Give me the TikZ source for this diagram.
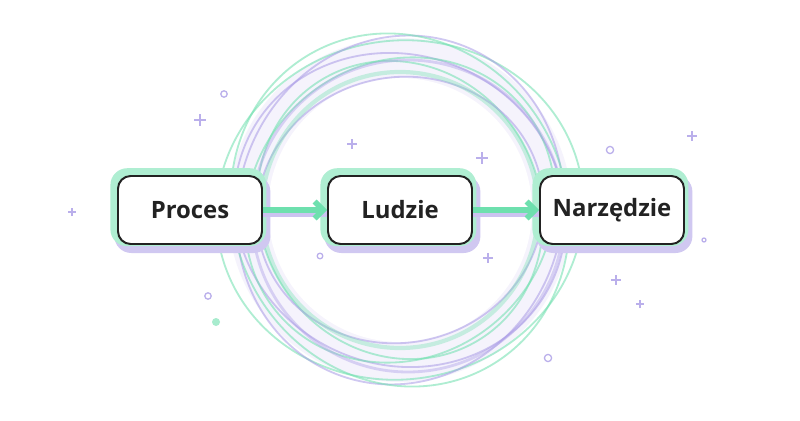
\documentclass[tikz,border=0pt]{standalone}
\usepackage{fontspec}
\setmainfont{Open Sans}
\usetikzlibrary{positioning, arrows.meta}
\definecolor{mint}{HTML}{6EE0AE}
\definecolor{lilac}{HTML}{A99BE6}
\definecolor{ink}{HTML}{222222}
\tikzset{
    stage/.style={draw=ink, line width=1.4pt, rounded corners=9pt, fill=white,
        minimum width=3.6cm, minimum height=1.7cm, font=\fontsize{17}{20}\selectfont\bfseries, text=ink},
    halo/.style={rounded corners=12pt, minimum width=3.9cm, minimum height=1.95cm},
    ring/.style={line width=1.3pt, opacity=0.55},
    flow/.style={->, line width=4pt, draw=mint, >={Straight Barb[length=6pt]}},
    spark/.style={line width=0.9pt, draw=lilac!80},
}
\newcommand{\twinkle}[3]{% x, y, size
    \draw[spark] (#1-#3,#2) -- (#1+#3,#2) (#1,#2-#3) -- (#1,#2+#3);}
\begin{document}
\begin{tikzpicture}
    \useasboundingbox[fill=white] (0,0) rectangle (20,10.5);
    % rings
    \fill[lilac!12] (10,5.25) circle (4.3);
    \fill[white] (10,5.25) circle (3.3);
    \foreach \r/\a/\c in {4.6/10/mint, 4.2/-25/lilac, 4.0/40/mint, 4.4/70/lilac, 3.8/-60/mint, 4.5/120/mint, 3.6/15/lilac}
        \draw[ring, \c] (10,5.25) ellipse[x radius=\r, y radius=\r*0.92, rotate=\a];
    \draw[ring, mint, line width=3pt, opacity=0.35] (10,5.25) circle (3.45);
    \draw[ring, lilac, line width=2pt, opacity=0.4] (10.2,5.1) circle (3.9);
    % sparkles
    \twinkle{5}{7.5}{0.15}
    \twinkle{12.05}{6.55}{0.15}
    \twinkle{8.8}{6.9}{0.12}
    \twinkle{17.3}{7.1}{0.12}
    \twinkle{15.4}{3.5}{0.12}
    \twinkle{1.8}{5.2}{0.1}
    \twinkle{16}{2.9}{0.1}
    \twinkle{12.2}{4.05}{0.12}
    \draw[spark] (5.6,8.15) circle (0.08) (15.25,6.75) circle (0.09) (5.2,3.1) circle (0.08)
        (13.7,1.55) circle (0.09) (8,4.1) circle (0.07) (17.6,4.5) circle (0.05);
    \fill[mint!60] (5.4,2.45) circle (0.1);
    % halos and stages
    \foreach \n/\x/\t in {proc/4.75/Proces, ludz/10/Ludzie, narz/15.3/Narzędzie}{
        \node[halo, fill=lilac!55] at (\x+0.06,5.15) {};
        \node[halo, fill=mint!55] at (\x-0.04,5.32) {};
        \node[stage] (\n) at (\x,5.25) {\t};
    }
    \draw[lilac!60, line width=4pt] ([yshift=-3pt]proc.east) -- ([yshift=-3pt]ludz.west)
        ([yshift=-3pt]ludz.east) -- ([yshift=-3pt]narz.west);
    \draw[flow] (proc) -- (ludz);
    \draw[flow] (ludz) -- (narz);
\end{tikzpicture}
\end{document}
